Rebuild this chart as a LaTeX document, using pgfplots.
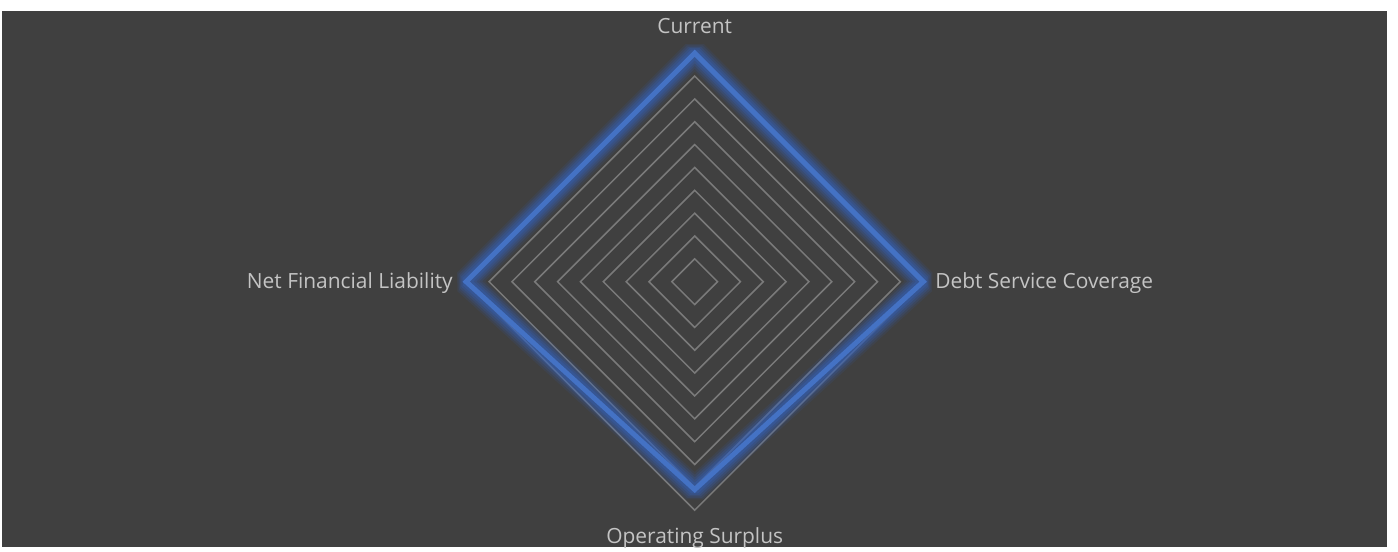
\documentclass[border=0pt]{standalone}
\usepackage{pgfplots}
\usepackage{pgfplotstable}
\pgfplotsset{compat=1.18}
\usepackage{fontspec}
\setmainfont{Open Sans}
\definecolor{bg}{HTML}{404040}
\definecolor{gridc}{HTML}{7A7A7A}
\definecolor{txt}{HTML}{C4C4C4}
\definecolor{blueln}{HTML}{4472C4}
\definecolor{glowc}{HTML}{3560B5}
\pgfplotstableread{
x y
0 10
10 0
0 -9.1
-10 0
}\radar
\begin{document}
\begin{tikzpicture}[x=1bp,y=1bp]
\fill[white] (-694.7,-265.3) rectangle (703.3,281.7);
\fill[bg] (-692.7,-265.3) rectangle (692.3,270.7);
\begin{axis}[at={(0,0)}, anchor=center, scale only axis, width=457bp, height=457bp,
  xmin=-10, xmax=10, ymin=-10, ymax=10, hide axis, clip=false]
\addplot[gridc, line width=1.5bp] coordinates {(0,1) (1,0) (0,-1) (-1,0)} -- cycle;
\addplot[gridc, line width=1.5bp] coordinates {(0,2) (2,0) (0,-2) (-2,0)} -- cycle;
\addplot[gridc, line width=1.5bp] coordinates {(0,3) (3,0) (0,-3) (-3,0)} -- cycle;
\addplot[gridc, line width=1.5bp] coordinates {(0,4) (4,0) (0,-4) (-4,0)} -- cycle;
\addplot[gridc, line width=1.5bp] coordinates {(0,5) (5,0) (0,-5) (-5,0)} -- cycle;
\addplot[gridc, line width=1.5bp] coordinates {(0,6) (6,0) (0,-6) (-6,0)} -- cycle;
\addplot[gridc, line width=1.5bp] coordinates {(0,7) (7,0) (0,-7) (-7,0)} -- cycle;
\addplot[gridc, line width=1.5bp] coordinates {(0,8) (8,0) (0,-8) (-8,0)} -- cycle;
\addplot[gridc, line width=1.5bp] coordinates {(0,9) (9,0) (0,-9) (-9,0)} -- cycle;
\addplot[gridc, line width=1.5bp] coordinates {(0,10) (10,0) (0,-10) (-10,0)} -- cycle;
% glow
\addplot[glowc, line width=26bp, opacity=0.12, line join=bevel] table {\radar} -- cycle;
\addplot[glowc, line width=22bp, opacity=0.17, line join=bevel] table {\radar} -- cycle;
\addplot[glowc, line width=18bp, opacity=0.22, line join=bevel] table {\radar} -- cycle;
\addplot[glowc, line width=14bp, opacity=0.28, line join=bevel] table {\radar} -- cycle;
\addplot[glowc, line width=10bp, opacity=0.35, line join=bevel] table {\radar} -- cycle;
\addplot[blueln, line width=5bp, line join=miter] table {\radar} -- cycle;
\node[txt, font=\fontsize{21}{25}\selectfont, anchor=base] at (axis cs:0,10.88) {Current};
\node[txt, font=\fontsize{21}{25}\selectfont, anchor=base] at (axis cs:0,-11.44) {Operating Surplus};
\node[txt, font=\fontsize{21}{25}\selectfont, anchor=base west, inner sep=0pt] at (axis cs:10.52,-0.276) {Debt Service Coverage};
\node[txt, font=\fontsize{21}{25}\selectfont, anchor=base east, inner sep=0pt] at (axis cs:-10.58,-0.276) {Net Financial Liability};
\end{axis}
\end{tikzpicture}
\end{document}
